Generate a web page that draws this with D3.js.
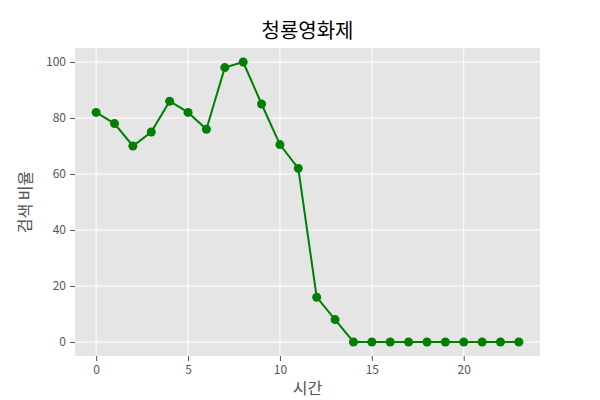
<!DOCTYPE html>
<html><head><meta charset="utf-8">
<script src="https://cdn.jsdelivr.net/npm/d3@7"></script>
<style>body{margin:0;background:#fff}svg{display:block}text{font-family:"Noto Sans CJK KR","Noto Sans",sans-serif}</style>
</head><body>
<svg id="c" width="600" height="400"></svg>
<script>
const hours = [0,1,2,3,4,5,6,7,8,9,10,11,12,13,14,15,16,17,18,19,20,21,22,23];
const ratio = [82,78,70,75,86,82,76,98,100,85,70.5,62,16,8,0,0,0,0,0,0,0,0,0,0];
const xTicks = [0,5,10,15,20];
const yTicks = [0,20,40,60,80,100];
const title = "청룡영화제", xLabel = "시간", yLabel = "검색 비율";

const svg = d3.select("#c");
const L=75, R=540, T=48, B=356;
const x = d3.scaleLinear().domain([-1.15,24.15]).range([L,R]);
const y = d3.scaleLinear().domain([-5,105]).range([B,T]);

svg.append("rect").attr("x",L).attr("y",T).attr("width",R-L).attr("height",B-T).attr("fill","#e5e5e5");
const g = svg.append("g");
g.selectAll(".gx").data(xTicks).enter().append("line").attr("x1",d=>x(d)).attr("x2",d=>x(d)).attr("y1",T).attr("y2",B).attr("stroke","#fff").attr("stroke-width",1);
g.selectAll(".gy").data(yTicks).enter().append("line").attr("y1",d=>y(d)).attr("y2",d=>y(d)).attr("x1",L).attr("x2",R).attr("stroke","#fff").attr("stroke-width",1);

const xa = svg.append("g").attr("transform",`translate(0,${B})`).call(d3.axisBottom(x).tickValues(xTicks).tickSize(5).tickPadding(4).tickFormat(d3.format("d")));
const ya = svg.append("g").attr("transform",`translate(${L},0)`).call(d3.axisLeft(y).tickValues(yTicks).tickSize(5).tickPadding(4).tickFormat(d3.format("d")));
[xa,ya].forEach(a=>{a.select(".domain").remove();a.selectAll("line").attr("stroke","#555");a.selectAll("text").attr("fill","#555").style("font-size","12px").style("font-family","'Noto Sans CJK KR','Noto Sans',sans-serif");});

const line = d3.line().x((d,i)=>x(hours[i])).y(d=>y(d));
svg.append("path").datum(ratio).attr("d",line).attr("fill","none").attr("stroke","#008000").attr("stroke-width",2);
svg.selectAll(".pt").data(ratio).enter().append("circle").attr("cx",(d,i)=>x(hours[i])).attr("cy",d=>y(d)).attr("r",4.5).attr("fill","#008000");

svg.append("text").attr("x",(L+R)/2).attr("y",38).attr("text-anchor","middle").style("font-size","20px").attr("fill","#000").text(title);
svg.append("text").attr("x",(L+R)/2).attr("y",394).attr("text-anchor","middle").style("font-size","16px").attr("fill","#555").text(xLabel);
svg.append("text").attr("transform",`translate(31,${(T+B)/2}) rotate(-90)`).attr("text-anchor","middle").style("font-size","16px").attr("fill","#555").text(yLabel);
</script>
</body></html>
